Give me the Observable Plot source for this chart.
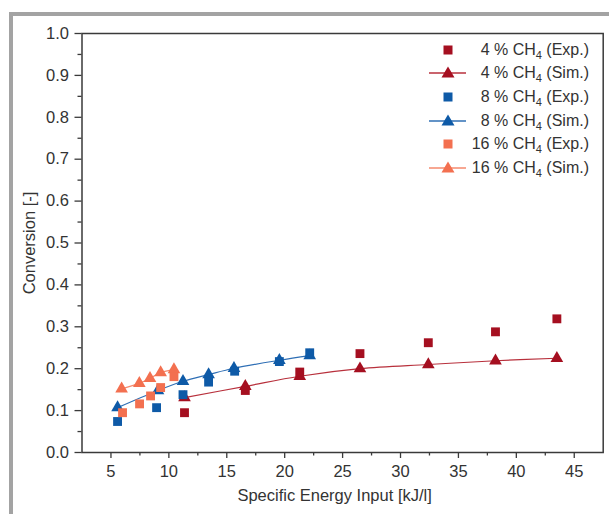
<!DOCTYPE html>
<html>
<head>
<meta charset="utf-8">
<script src="https://cdn.jsdelivr.net/npm/d3@7"></script>
<script src="https://cdn.jsdelivr.net/npm/@observablehq/plot@0.6"></script>
<style>
  html, body { margin: 0; padding: 0; background: #fff; }
  #wrap { position: relative; width: 609px; height: 514px; overflow: hidden; font-family: "Liberation Sans", Arial, sans-serif; }
  #frame { position: absolute; left: 9px; top: 12px; width: 600px; height: 502px; box-sizing: border-box;
           border-top: 4px solid #a3a3a3; border-left: 4px solid #a3a3a3; pointer-events: none; }
  #legend { position: absolute; left: 426px; top: 38px; width: 163px; font-size: 16px; color: #333; }
  .row { display: flex; justify-content: space-between; align-items: center; height: 23.6px; }
  .row svg { display: block; }
  .lab { white-space: nowrap; }
  .sub { font-size: 11px; position: relative; top: 4px; }
</style>
</head>
<body>
<div id="wrap"><div id="chart"></div><div id="legend"></div><div id="frame"></div></div>
<script>
// ---- data ----
const exp4X = [11.35, 16.6, 21.3, 26.5, 32.4, 38.2, 43.5];
const exp4Y = [0.095, 0.148, 0.192, 0.236, 0.262, 0.288, 0.319];
const sim4X = [11.35, 16.6, 21.3, 26.5, 32.4, 38.2, 43.5];
const sim4Y = [0.131, 0.158, 0.182, 0.200, 0.210, 0.219, 0.225];

const exp8X = [5.57, 8.94, 11.22, 13.43, 15.68, 19.54, 22.16];
const exp8Y = [0.074, 0.107, 0.138, 0.168, 0.194, 0.217, 0.238];
const sim8X = [5.57, 9.06, 11.22, 13.43, 15.62, 19.54, 22.16];
const sim8Y = [0.107, 0.148, 0.170, 0.186, 0.201, 0.220, 0.231];

const exp16X = [6.0, 7.47, 8.42, 9.29, 10.44];
const exp16Y = [0.095, 0.116, 0.135, 0.155, 0.181];
const sim16X = [5.92, 7.45, 8.37, 9.29, 10.44];
const sim16Y = [0.152, 0.165, 0.177, 0.191, 0.198];

const seriesNames = ["4", "8", "16"];
const seriesColors = ["#a50f20", "#0e5aa7", "#f37050"];
const lineColors = ["#b8303c", "#2f6fb5", "#f58a6e"];

const xTicks = [5, 10, 15, 20, 25, 30, 35, 40, 45];
const xMinor = [7.5, 12.5, 17.5, 22.5, 27.5, 32.5, 37.5, 42.5];
const yTicks = [0, 0.1, 0.2, 0.3, 0.4, 0.5, 0.6, 0.7, 0.8, 0.9, 1.0];
const yMinor = [0.05, 0.15, 0.25, 0.35, 0.45, 0.55, 0.65, 0.75, 0.85, 0.95];
const xLabel = "Specific Energy Input [kJ/l]";
const yLabel = "Conversion [-]";

// ---- build ----
const rows = (xs, ys) => xs.map((x, i) => ({x, y: ys[i]}));
const expSets = [rows(exp4X, exp4Y), rows(exp8X, exp8Y), rows(exp16X, exp16Y)];
const simSets = [rows(sim4X, sim4Y), rows(sim8X, sim8Y), rows(sim16X, sim16Y)];

const seriesMarks = [];
for (let i = 0; i < 3; i++) {
  seriesMarks.push(Plot.line(simSets[i], {x: "x", y: "y", stroke: lineColors[i], strokeWidth: 1.2, curve: "catmull-rom"}));
  seriesMarks.push(Plot.dot(simSets[i], {x: "x", y: "y", symbol: "triangle", r: 4.7, fill: seriesColors[i], stroke: null}));
  seriesMarks.push(Plot.dot(expSets[i], {x: "x", y: "y", symbol: "square", r: 5, fill: seriesColors[i], stroke: null}));
}

const axisColor = "#3a3a3a";
const chart = Plot.plot({
  width: 609,
  height: 514,
  marginLeft: 81.5,
  marginRight: 6.3,
  marginTop: 33,
  marginBottom: 62,
  x: {domain: [2.5, 47.5]},
  y: {domain: [0, 1]},
  style: {fontFamily: "'Liberation Sans', Arial, sans-serif", fontSize: "16px", color: "#333", background: "transparent"},
  marks: [
    Plot.frame({stroke: axisColor, strokeWidth: 1.5}),
    Plot.axisX({ticks: xTicks, tickSize: 6, tickPadding: 7, tickFormat: d => String(d), label: null, stroke: axisColor, strokeWidth: 1.3, fontSize: 16.5, fill: "#333"}),
    Plot.axisX({ticks: xMinor, tickSize: 3.5, tickFormat: () => "", label: null, stroke: axisColor, strokeWidth: 1.3}),
    Plot.axisY({ticks: yTicks, tickSize: 7, tickPadding: 6, tickFormat: d3.format(".1f"), label: null, stroke: axisColor, strokeWidth: 1.3, fontSize: 16.5, fill: "#333"}),
    Plot.axisY({ticks: yMinor, tickSize: 4, tickFormat: () => "", label: null, stroke: axisColor, strokeWidth: 1.3}),
    Plot.text([xLabel], {text: d => d, frameAnchor: "bottom", textAnchor: "middle", lineAnchor: "middle", dx: -8, dy: 43, fontSize: 16.5, fill: "#333"}),
    Plot.text([yLabel], {text: d => d, frameAnchor: "left", textAnchor: "middle", lineAnchor: "middle", dx: -52, rotate: -90, fontSize: 16.5, fill: "#333"}),
    ...seriesMarks
  ]
});
document.getElementById("chart").appendChild(chart);

// ---- legend ----
const legend = document.getElementById("legend");
const ns = "http://www.w3.org/2000/svg";
function markerSvg(kind, color, lineColor) {
  const svg = document.createElementNS(ns, "svg");
  svg.setAttribute("width", 40); svg.setAttribute("height", 20);
  if (kind === "sim") {
    const l = document.createElementNS(ns, "line");
    l.setAttribute("x1", 3); l.setAttribute("x2", 40); l.setAttribute("y1", 10); l.setAttribute("y2", 10);
    l.setAttribute("stroke", lineColor); l.setAttribute("stroke-width", 1.3);
    svg.appendChild(l);
    const p = document.createElementNS(ns, "path");
    p.setAttribute("d", "M22,3.5 L28.5,14.5 L15.5,14.5 Z");
    p.setAttribute("fill", color);
    svg.appendChild(p);
  } else {
    const r = document.createElementNS(ns, "rect");
    r.setAttribute("x", 17.5); r.setAttribute("y", 5.5); r.setAttribute("width", 9); r.setAttribute("height", 9);
    r.setAttribute("fill", color);
    svg.appendChild(r);
  }
  return svg;
}
for (let i = 0; i < 3; i++) {
  for (const kind of ["exp", "sim"]) {
    const row = document.createElement("div");
    row.className = "row";
    row.appendChild(markerSvg(kind, seriesColors[i], lineColors[i]));
    const lab = document.createElement("span");
    lab.className = "lab";
    lab.innerHTML = `${seriesNames[i]} % CH<span class="sub">4</span> (${kind === "exp" ? "Exp." : "Sim."})`;
    row.appendChild(lab);
    legend.appendChild(row);
  }
}
</script>
</body>
</html>
